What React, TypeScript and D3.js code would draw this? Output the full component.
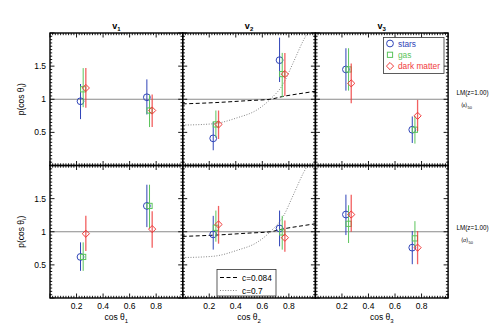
import React from "react";
import * as d3 from "d3";

// cos theta positions of the two bins, per species (slightly offset)
const starsX = [0.23, 0.73];
const gasX = [0.25, 0.75];
const dmX = [0.27, 0.77];

// top row (LM, <eps>) : v1, v2, v3
const topStars = [[0.97, 1.03], [0.41, 1.59], [1.45, 0.54]];
const topStarsLo = [[0.70, 0.77], [0.23, 1.26], [1.13, 0.34]];
const topStarsHi = [[1.23, 1.30], [0.66, 1.93], [1.77, 0.74]];
const topGas = [[1.15, 0.83], [0.62, 1.38], [1.45, 0.54]];
const topGasLo = [[0.88, 0.58], [0.42, 1.03], [1.13, 0.33]];
const topGasHi = [[1.47, 1.07], [0.83, 1.70], [1.77, 0.75]];
const topDm = [[1.17, 0.83], [0.62, 1.38], [1.24, 0.75]];
const topDmLo = [[0.87, 0.58], [0.40, 1.05], [0.94, 0.52]];
const topDmHi = [[1.47, 1.07], [0.83, 1.70], [1.54, 0.99]];

// bottom row (LM, <sigma>)
const botStars = [[0.62, 1.39], [0.96, 1.05], [1.26, 0.76]];
const botStarsLo = [[0.41, 1.07], [0.73, 0.78], [0.95, 0.51]];
const botStarsHi = [[0.84, 1.71], [1.24, 1.32], [1.56, 1.01]];
const botGas = [[0.62, 1.39], [1.06, 0.99], [1.12, 0.90]];
const botGasLo = [[0.41, 1.05], [0.85, 0.73], [0.83, 0.76]];
const botGasHi = [[0.84, 1.71], [1.32, 1.24], [1.40, 1.16]];
const botDm = [[0.97, 1.04], [1.11, 0.91], [1.26, 0.76]];
const botDmLo = [[0.71, 0.76], [0.82, 0.70], [1.00, 0.51]];
const botDmHi = [[1.24, 1.31], [1.39, 1.17], [1.56, 1.01]];

// model curves drawn in the v2 column
const dashX = [0, 0.25, 0.5, 0.66, 0.75, 0.9, 1.0];
const dashY = [0.93, 0.95, 0.98, 1.0, 1.04, 1.09, 1.12];
const dotX = [0, 0.23, 0.41, 0.56, 0.66, 0.76, 0.83, 0.91, 0.94];
const dotY = [0.61, 0.63, 0.72, 0.84, 1.0, 1.24, 1.54, 1.89, 2.0];

const xTickLabels = ["0.2", "0.4", "0.6", "0.8"];
const yTickLabels = ["0.5", "1", "1.5"];
const rowLabels = ["\u27E8\u03B5\u27E9", "\u27E8\u03C3\u27E9"];

const BLUE = "#2f44b8";
const GREEN = "#5cc45c";
const RED = "#f03a3a";
const FONT = "Liberation Sans, Arial, sans-serif";

const L = 50, T = 33, PW = 132.7, PH = 132.5;

const Marker = ({ kind, x, y }: { kind: string; x: number; y: number }) => {
  if (kind === "stars") return <circle cx={x} cy={y} r={3.4} fill="none" stroke={BLUE} strokeWidth={1} />;
  if (kind === "gas") return <rect x={x - 2.6} y={y - 2.6} width={5.2} height={5.2} fill="none" stroke={GREEN} strokeWidth={1} />;
  return <path d={`M${x},${y - 3.6}L${x + 3.6},${y}L${x},${y + 3.6}L${x - 3.6},${y}Z`} fill="none" stroke={RED} strokeWidth={1} />;
};

const Panel = ({ row, col }: { row: number; col: number }) => {
  const x0 = L + col * PW;
  const y0 = T + row * PH;
  const xs = d3.scaleLinear().domain([0, 1]).range([x0, x0 + PW]);
  const ys = d3.scaleLinear().domain([0, 2]).range([y0 + PH, y0]);
  const top = row === 0;
  const series = [
    { kind: "stars", color: BLUE, xv: starsX, v: (top ? topStars : botStars)[col], lo: (top ? topStarsLo : botStarsLo)[col], hi: (top ? topStarsHi : botStarsHi)[col] },
    { kind: "gas", color: GREEN, xv: gasX, v: (top ? topGas : botGas)[col], lo: (top ? topGasLo : botGasLo)[col], hi: (top ? topGasHi : botGasHi)[col] },
    { kind: "dm", color: RED, xv: dmX, v: (top ? topDm : botDm)[col], lo: (top ? topDmLo : botDmLo)[col], hi: (top ? topDmHi : botDmHi)[col] },
  ];
  const xMinor = d3.range(0, 51).map((i) => i * 0.02);
  const yMinor = d3.range(0, 41).map((i) => i * 0.05);
  const line = d3.line<number>().x((d, i) => xs(dashX[i])).y((d) => ys(d)).curve(d3.curveMonotoneX);
  const dline = d3.line<number>().x((d, i) => xs(dotX[i])).y((d) => ys(d)).curve(d3.curveMonotoneX);
  const clipId = `clip${row}${col}`;
  return (
    <g>
      <clipPath id={clipId}><rect x={x0} y={y0} width={PW} height={PH} /></clipPath>
      <line x1={x0} x2={x0 + PW} y1={ys(1)} y2={ys(1)} stroke="#8a8a8a" strokeWidth={1} />
      {col === 1 && (
        <g clipPath={`url(#${clipId})`}>
          <path d={line(dashY) || ""} fill="none" stroke="#000" strokeWidth={1} strokeDasharray="4,2.5" />
          <path d={dline(dotY) || ""} fill="none" stroke="#666" strokeWidth={0.8} strokeDasharray="1,1.6" />
        </g>
      )}
      {series.map((s) => (
        <g key={s.kind}>
          {s.v.map((v, i) => (
            <g key={i}>
              <line x1={xs(s.xv[i])} x2={xs(s.xv[i])} y1={ys(s.lo[i])} y2={ys(s.hi[i])} stroke={s.color} strokeWidth={s.kind === "dm" ? 1.3 : 1} opacity={s.kind === "dm" ? 0.8 : 1} />
              <Marker kind={s.kind} x={xs(s.xv[i])} y={ys(v)} />
            </g>
          ))}
        </g>
      ))}
      {xMinor.map((t, i) => {
        const len = i % 10 === 0 ? 4.5 : 2.2;
        return (
          <g key={"x" + i}>
            <line x1={xs(t)} x2={xs(t)} y1={y0 + PH} y2={y0 + PH - len} stroke="#000" strokeWidth={0.9} />
            <line x1={xs(t)} x2={xs(t)} y1={y0} y2={y0 + len} stroke="#000" strokeWidth={0.9} />
          </g>
        );
      })}
      {yMinor.map((t, i) => {
        const len = i % 10 === 0 ? 4.5 : 2.2;
        return (
          <g key={"y" + i}>
            <line x1={x0} x2={x0 + len} y1={ys(t)} y2={ys(t)} stroke="#000" strokeWidth={0.9} />
            <line x1={x0 + PW} x2={x0 + PW - len} y1={ys(t)} y2={ys(t)} stroke="#000" strokeWidth={0.9} />
          </g>
        );
      })}
      <rect x={x0} y={y0} width={PW} height={PH} fill="none" stroke="#000" strokeWidth={1.4} />
      {col === 0 && yTickLabels.map((t) => (
        <text key={t} x={x0 - 4} y={ys(+t) + 3} textAnchor="end" fontSize={8.5} fontFamily={FONT}>{t}</text>
      ))}
      {col === 0 && (
        <text transform={`translate(${x0 - 26},${ys(1)}) rotate(-90)`} textAnchor="middle" fontSize={8.5} fontFamily={FONT}>
          p(cos θ<tspan fontSize={6} dy={2}>i</tspan><tspan dy={-2}>)</tspan>
        </text>
      )}
      {row === 1 && xTickLabels.map((t) => (
        <text key={t} x={xs(+t)} y={y0 + PH + 11} textAnchor="middle" fontSize={8.5} fontFamily={FONT}>{t}</text>
      ))}
      {row === 1 && (
        <text x={xs(0.5)} y={y0 + PH + 22} textAnchor="middle" fontSize={8.5} fontFamily={FONT}>
          cos θ<tspan fontSize={6} dy={2.5}>{col + 1}</tspan>
        </text>
      )}
      {row === 0 && (
        <text x={xs(0.5)} y={y0 - 4} textAnchor="middle" fontSize={9} fontWeight="bold" fontFamily={FONT}>
          v<tspan fontSize={6} dy={2}>{col + 1}</tspan>
        </text>
      )}
    </g>
  );
};

export default function App() {
  const legendRows = [
    { kind: "stars", label: "stars", color: BLUE },
    { kind: "gas", label: "gas", color: GREEN },
    { kind: "dm", label: "dark matter", color: RED },
  ];
  return (
    <svg width={498} height={333} style={{ position: "absolute", left: 0, top: 0, background: "#fff" }}>
      {[0, 1].map((r) => [0, 1, 2].map((c) => <Panel key={`${r}${c}`} row={r} col={c} />))}
      <g>
        <rect x={383.5} y={37.5} width={60.5} height={36} fill="#fff" stroke="#333" strokeWidth={0.8} />
        {legendRows.map((d, i) => (
          <g key={d.kind}>
            <Marker kind={d.kind} x={390} y={43.5 + i * 11.3} />
            <text x={398} y={46.5 + i * 11.3} fontSize={8.3} fill={d.color} fontFamily={FONT}>{d.label}</text>
          </g>
        ))}
      </g>
      <g>
        <rect x={217} y={269.5} width={59} height={26.5} fill="#fff" stroke="#333" strokeWidth={0.8} />
        <line x1={220} x2={238} y1={277.5} y2={277.5} stroke="#000" strokeWidth={1} strokeDasharray="4,2.5" />
        <text x={242} y={280.5} fontSize={8.3} fontFamily={FONT}>c=0.084</text>
        <line x1={220} x2={238} y1={290.5} y2={290.5} stroke="#666" strokeWidth={0.8} strokeDasharray="1,1.6" />
        <text x={242} y={293.5} fontSize={8.3} fontFamily={FONT}>c=0.7</text>
      </g>
      {rowLabels.map((lab, r) => (
        <g key={r} fontFamily={FONT}>
          <text x={456.5} y={r === 0 ? 95 : 230} fontSize={6.3}>LM(z=1.00)</text>
          <text x={461} y={r === 0 ? 107 : 242} fontSize={5.5}>
            {lab}<tspan fontSize={4} dy={2}>50</tspan>
          </text>
        </g>
      ))}
    </svg>
  );
}
